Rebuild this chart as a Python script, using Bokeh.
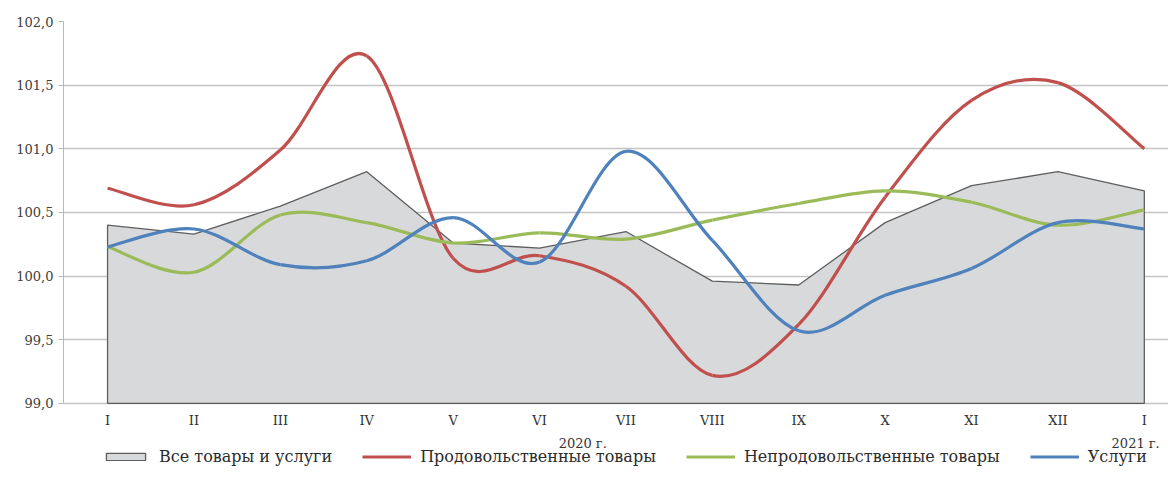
import numpy as np
from bokeh.plotting import figure
from bokeh.models import (Range1d, FixedTicker, Legend, LegendItem, ColumnDataSource)
from bokeh.core.properties import value
from bokeh.embed import file_html
from bokeh.resources import INLINE

months = ["I", "II", "III", "IV", "V", "VI", "VII", "VIII", "IX", "X", "XI", "XII", "I"]
years = ["2020 г.", "2021 г."]
year_pos = [5.5, 11.9]
all_goods = [100.40, 100.33, 100.55, 100.82, 100.26, 100.22, 100.35, 99.96, 99.93, 100.42, 100.71, 100.82, 100.67]
food = [100.69, 100.56, 100.99, 101.73, 100.14, 100.16, 99.92, 99.22, 99.62, 100.62, 101.38, 101.52, 101.00]
nonfood = [100.23, 100.03, 100.48, 100.42, 100.26, 100.34, 100.29, 100.44, 100.57, 100.67, 100.58, 100.40, 100.52]
services = [100.23, 100.37, 100.09, 100.12, 100.46, 100.11, 100.98, 100.28, 99.57, 99.85, 100.06, 100.42, 100.37]
names = ["Все товары и услуги", "Продовольственные товары", "Непродовольственные товары", "Услуги"]
y_ticks = [99.0, 99.5, 100.0, 100.5, 101.0, 101.5, 102.0]

FONT = "DejaVu Serif"

x = list(range(len(months)))
y_min, y_max = y_ticks[0], y_ticks[-1]
# extra room under the value axis for month labels, years and legend
y_bottom = y_min - 0.59

p = figure(frame_width=1105, frame_height=457, output_backend="svg", toolbar_location=None,
           x_range=Range1d(-0.51, 12.28), y_range=Range1d(y_bottom, y_max),
           x_axis_location=None,
           min_border_left=63, min_border_right=0, min_border_top=21,
           min_border_bottom=0)
p.outline_line_color = None
p.xgrid.grid_line_color = None
p.ygrid.grid_line_color = "#c4c4c4"
p.ygrid.grid_line_width = 1.3
p.ygrid.ticker = FixedTicker(ticks=y_ticks)

# y axis
p.yaxis.ticker = FixedTicker(ticks=y_ticks)
p.yaxis.bounds = (y_min, y_max)
p.yaxis.major_label_overrides = {v: f"{v:.1f}".replace(".", ",") for v in y_ticks}
p.yaxis.axis_line_color = "#b8b8b8"
p.yaxis.major_tick_line_color = "#b8b8b8"
p.yaxis.major_tick_out = 5
p.yaxis.major_tick_in = 0
p.yaxis.minor_tick_line_color = None
p.yaxis.major_label_text_font = FONT
p.yaxis.major_label_text_font_size = "13px"
p.yaxis.major_label_text_color = "#404040"
p.yaxis.major_label_standoff = 5

# area for all goods
px = [x[0]] + x + [x[-1]]
py = [y_min] + all_goods + [y_min]
area = p.patch(px, py, fill_color="#d8d9db", line_color="#5e5e5e", line_width=1.3)


def bezier_source(vals):
    xs = np.array(x, dtype=float)
    ys = np.array(vals, dtype=float)
    n = len(xs)
    d = dict(x0=[], y0=[], x1=[], y1=[], cx0=[], cy0=[], cx1=[], cy1=[])
    for i in range(n - 1):
        im1 = max(i - 1, 0)
        ip2 = min(i + 2, n - 1)
        d["x0"].append(xs[i]); d["y0"].append(ys[i])
        d["x1"].append(xs[i + 1]); d["y1"].append(ys[i + 1])
        d["cx0"].append(xs[i] + (xs[i + 1] - xs[im1]) / 6)
        d["cy0"].append(ys[i] + (ys[i + 1] - ys[im1]) / 6)
        d["cx1"].append(xs[i + 1] - (xs[ip2] - xs[i]) / 6)
        d["cy1"].append(ys[i + 1] - (ys[ip2] - ys[i]) / 6)
    return ColumnDataSource(d)


colors = ["#c0504d", "#9bbb59", "#4f81bd"]
renderers = [area]
for vals, col in zip([food, nonfood, services], colors):
    r = p.bezier(x0="x0", y0="y0", x1="x1", y1="y1", cx0="cx0", cy0="cy0",
                 cx1="cx1", cy1="cy1", source=bezier_source(vals),
                 line_color=col, line_width=3.2)
    renderers.append(r)

# month labels under the axis
p.text(x=x, y=[y_min] * len(x), text=months, y_offset=17,
       text_align="center", text_baseline="middle",
       text_font=value(FONT), text_font_size="13px", text_color="#333333")
# year labels
p.text(x=year_pos, y=[y_min] * len(year_pos), text=years, y_offset=40,
       text_align="center", text_baseline="middle",
       text_font=value(FONT), text_font_size="13px", text_color="#333333")

items = [LegendItem(label=n, renderers=[r]) for n, r in zip(names, renderers)]
legend = Legend(items=items, orientation="horizontal", location=(38, 12),
                glyph_width=49, glyph_height=9, label_standoff=9, spacing=30,
                label_text_font=FONT, label_text_font_size="16px",
                label_text_color="#2b2b2b", border_line_color=None,
                background_fill_alpha=0, padding=0, margin=0)
p.add_layout(legend, "center")

open("out.html", "w").write(file_html(p, INLINE))
